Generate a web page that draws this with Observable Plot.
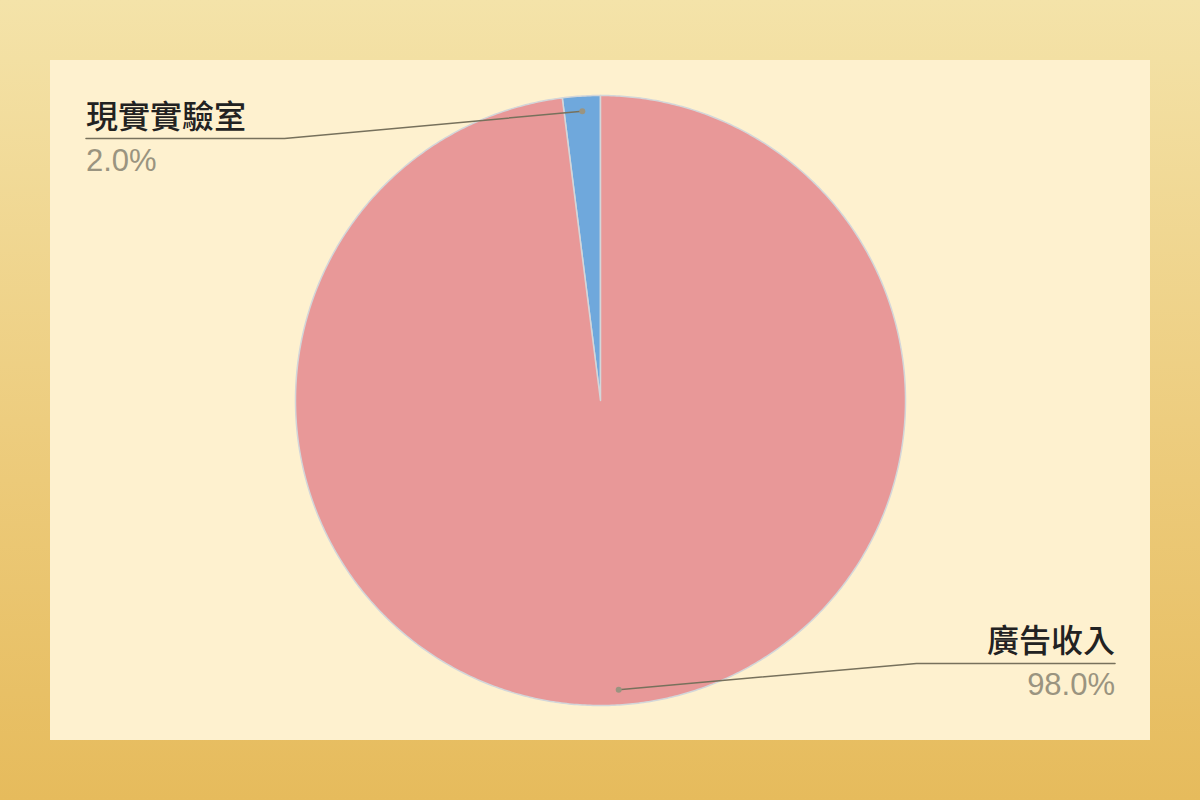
<!DOCTYPE html>
<html>
<head>
<meta charset="utf-8">
<script src="https://cdn.jsdelivr.net/npm/d3@7"></script>
<script src="https://cdn.jsdelivr.net/npm/@observablehq/plot@0.6"></script>
<style>
  html, body { margin: 0; padding: 0; }
  body {
    width: 1200px; height: 800px; overflow: hidden;
    background: linear-gradient(to bottom, #f4e3a9 0%, #ecca79 60%, #e6bb5c 100%);
    position: relative;
  }
  #panel {
    position: absolute; left: 50px; top: 60px; width: 1100px; height: 680px;
    background: #fef1cf;
  }
</style>
</head>
<body>
<div id="panel"></div>
<script>
// ---- data ----
const categories = ["現實實驗室", "廣告收入"];
const values = [2.0, 98.0];
const colors = ["#6fa8dc", "#e89898"];
const percentLabels = ["2.0%", "98.0%"];

// ---- layout (unit circle coordinates) ----
const W = 1100, H = 680, R = 305;
const total = d3.sum(values);

// slice polygons, counterclockwise from 12 o'clock
const slicePts = [];
const anchors = [];
let acc = 0;
categories.forEach((c, i) => {
  const a0 = acc / total * 2 * Math.PI;
  acc += values[i];
  const a1 = acc / total * 2 * Math.PI;
  slicePts.push({cat: c, x: 0, y: 0});
  const n = Math.max(2, Math.ceil((a1 - a0) / (Math.PI / 360)));
  for (let k = 0; k <= n; k++) {
    const t = a0 + (a1 - a0) * k / n;
    slicePts.push({cat: c, x: -Math.sin(t), y: Math.cos(t)});
  }
  slicePts.push({cat: c, x: 0, y: 0});
  const m = (a0 + a1) / 2;
  anchors.push({cat: c, x: -0.95 * Math.sin(m), y: 0.95 * Math.cos(m), side: Math.sin(m) > 0 ? -1 : 1, top: Math.cos(m) > 0});
});

// label placement
const labelRows = anchors.map((a, i) => {
  const top = a.top;
  return {
    cat: a.cat,
    pct: percentLabels[i],
    side: a.side,
    ax: a.x, ay: a.y,
    elbowX: a.side * 1.036,
    endX: a.side * 1.687,
    lineY: top ? 0.859 : -0.862,
    nameY: top ? 0.895 : -0.826,
    pctY: top ? 0.751 : -0.967
  };
});
const leader = labelRows.flatMap(r => [
  {cat: r.cat, x: r.ax, y: r.ay},
  {cat: r.cat, x: r.elbowX, y: r.lineY},
  {cat: r.cat, x: r.endX, y: r.lineY}
]);
const leftRows = labelRows.filter(d => d.side < 0);
const rightRows = labelRows.filter(d => d.side > 0);
const nameStyle = {fontSize: 32, fontWeight: 500, fill: "#222222", fontFamily: "Noto Sans CJK TC", lineAnchor: "bottom"};
const pctStyle = {fontSize: 31, fill: "#9a9480", fontFamily: "Liberation Sans, Arial, sans-serif", lineAnchor: "bottom"};

const chart = Plot.plot({
  width: W, height: H,
  margin: 0,
  style: {background: "transparent", overflow: "visible"},
  x: {domain: [-W / 2 / R, W / 2 / R], axis: null},
  y: {domain: [-H / 2 / R, H / 2 / R], axis: null},
  color: {domain: categories, range: colors},
  marks: [
    Plot.line(slicePts, {x: "x", y: "y", z: "cat", fill: "cat", stroke: "#d3d6d9", strokeWidth: 1.5, strokeLinejoin: "round", curve: "linear"}),
    Plot.line(leader, {x: "x", y: "y", z: "cat", stroke: "#77715c", strokeWidth: 1.5}),
    Plot.dot(labelRows, {x: "ax", y: "ay", r: 3, fill: "#9a9480", stroke: "none"}),
    Plot.text(leftRows, {x: "endX", y: "nameY", text: "cat", textAnchor: "start", ...nameStyle}),
    Plot.text(rightRows, {x: "endX", y: "nameY", text: "cat", textAnchor: "end", ...nameStyle}),
    Plot.text(leftRows, {x: "endX", y: "pctY", text: "pct", textAnchor: "start", ...pctStyle}),
    Plot.text(rightRows, {x: "endX", y: "pctY", text: "pct", textAnchor: "end", ...pctStyle})
  ]
});
document.getElementById("panel").appendChild(chart);
</script>
</body>
</html>
